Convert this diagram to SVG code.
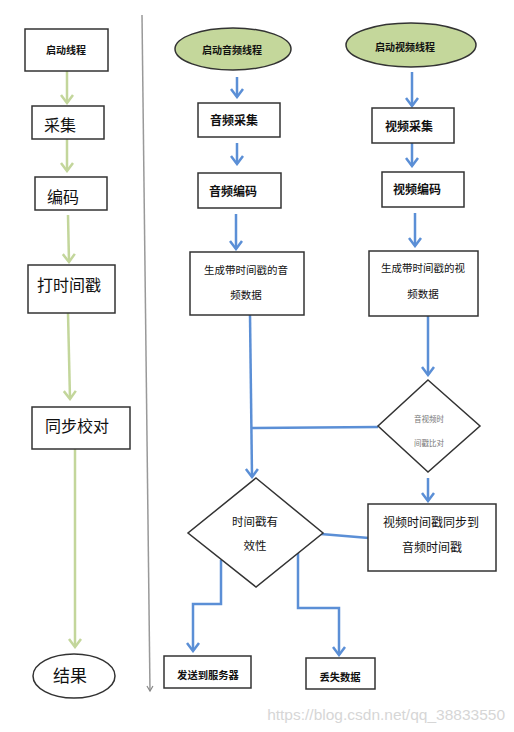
<svg xmlns="http://www.w3.org/2000/svg" width="514" height="732" viewBox="0 0 514 732">
<defs>
<style>
.box{fill:#fff;stroke:#333;stroke-width:1.5}
.start{fill:#c4d79b;stroke:#333;stroke-width:1.5}
.t{font-family:"Liberation Sans","Noto Sans CJK SC",sans-serif;fill:#111;text-anchor:middle;dominant-baseline:central}
.b{font-weight:bold}
.g{fill:none;stroke:#c3d69b;stroke-width:2.5}
.bl{fill:none;stroke:#5b8fd6;stroke-width:2.5}
.ga{marker-end:url(#ag)}
.ba{marker-end:url(#ab)}
</style>
<marker id="ag" viewBox="-10 -8 12 16" markerWidth="12" markerHeight="16" refX="0" refY="0" orient="auto" markerUnits="userSpaceOnUse">
<path d="M-8,-6 L0,0 L-8,6" fill="none" stroke="#c3d69b" stroke-width="2.5"/>
</marker>
<marker id="ab" viewBox="-10 -8 12 16" markerWidth="12" markerHeight="16" refX="0" refY="0" orient="auto" markerUnits="userSpaceOnUse">
<path d="M-8,-6 L0,0 L-8,6" fill="none" stroke="#5b8fd6" stroke-width="2.5"/>
</marker>
<marker id="agray" viewBox="-6 -4 8 8" markerWidth="8" markerHeight="8" refX="0" refY="0" orient="auto" markerUnits="userSpaceOnUse">
<path d="M-5,-3 L0,0 L-5,3" fill="none" stroke="#888" stroke-width="1.2"/>
</marker>
</defs>
<rect width="514" height="732" fill="#fff"/>

<g id="connectors">
<line x1="142" y1="15" x2="150" y2="691" stroke="#999" stroke-width="1.5" marker-end="url(#agray)"/>
<line class="g ga" x1="67" y1="71" x2="67" y2="103"/>
<line class="g ga" x1="67" y1="139" x2="67" y2="171"/>
<line class="g ga" x1="68" y1="215" x2="69" y2="262"/>
<line class="g ga" x1="68" y1="313" x2="70" y2="399"/>
<line class="g ga" x1="75" y1="449" x2="75" y2="647"/>
<line class="bl ba" x1="237" y1="77" x2="237" y2="97"/>
<line class="bl ba" x1="237" y1="143" x2="237" y2="164"/>
<line class="bl ba" x1="236" y1="214" x2="236" y2="249"/>
<line class="bl ba" x1="412" y1="72" x2="412" y2="106"/>
<line class="bl ba" x1="412" y1="143" x2="412" y2="166"/>
<line class="bl ba" x1="415" y1="213" x2="415" y2="246"/>
<line class="bl ba" x1="250" y1="315" x2="252" y2="477"/>
<line class="bl ba" x1="428" y1="316" x2="428" y2="375"/>
<line class="bl" x1="378" y1="427" x2="251" y2="428"/>
<line class="bl ba" x1="428" y1="478" x2="428" y2="501"/>
<line class="bl" x1="369" y1="538" x2="321" y2="534"/>
<polyline class="bl ba" points="221,560 221,604 193,604 193,651"/>
<polyline class="bl ba" points="298,553 298,608 339,608 339,655"/>
</g>

<g id="n-start">
<rect class="box" x="25" y="29" width="83" height="42"/>
<text class="t b" x="66" y="50" font-size="10">启动线程</text>
</g>
<g id="n-collect">
<rect class="box" x="32" y="106" width="72" height="33"/>
<text class="t" x="60" y="125" font-size="16">采集</text>
</g>
<g id="n-encode">
<rect class="box" x="35" y="177" width="72" height="33"/>
<text class="t" x="63" y="197" font-size="16">编码</text>
</g>
<g id="n-stamp">
<rect class="box" x="28" y="265" width="87" height="48"/>
<text class="t" x="69" y="285" font-size="16">打时间戳</text>
</g>
<g id="n-sync">
<rect class="box" x="32" y="407" width="98" height="42"/>
<text class="t" x="77" y="426" font-size="16">同步校对</text>
</g>
<g id="n-result">
<ellipse class="box" cx="74" cy="676" rx="41" ry="22"/>
<text class="t" x="70" y="676" font-size="17">结果</text>
</g>

<g id="n-audio-start">
<ellipse class="start" cx="233" cy="49" rx="58" ry="21"/>
<text class="t b" x="232" y="50" font-size="10">启动音频线程</text>
</g>
<g id="n-video-start">
<ellipse class="start" cx="411" cy="45" rx="65" ry="22"/>
<text class="t b" x="405" y="47" font-size="10">启动视频线程</text>
</g>
<g id="n-audio-collect">
<rect class="box" x="198" y="103" width="82" height="34"/>
<text class="t b" x="234" y="121" font-size="12">音频采集</text>
</g>
<g id="n-audio-encode">
<rect class="box" x="198" y="173" width="83" height="35"/>
<text class="t b" x="233" y="192" font-size="12">音频编码</text>
</g>
<g id="n-audio-data">
<rect class="box" x="190" y="252" width="114" height="63"/>
<text class="t" x="246" y="270" font-size="10.5">生成带时间戳的音</text>
<text class="t" x="246" y="295" font-size="10.5">频数据</text>
</g>
<g id="n-video-collect">
<rect class="box" x="372" y="108" width="82" height="35"/>
<text class="t b" x="409" y="127" font-size="12">视频采集</text>
</g>
<g id="n-video-encode">
<rect class="box" x="382" y="172" width="82" height="35"/>
<text class="t b" x="417" y="190" font-size="12">视频编码</text>
</g>
<g id="n-video-data">
<rect class="box" x="369" y="251" width="109" height="65"/>
<text class="t" x="423" y="268" font-size="10.5">生成带时间戳的视</text>
<text class="t" x="423" y="294" font-size="10.5">频数据</text>
</g>
<g id="n-compare">
<polygon class="box" points="428,380 480,426 428,472 378,426"/>
<text class="t" x="429" y="419" font-size="7.5" fill="#777" style="fill:#777">音视频时</text>
<text class="t" x="429" y="443" font-size="7.5" style="fill:#777">间戳比对</text>
</g>
<g id="n-valid">
<polygon class="box" points="256,478 323,533 256,587 188,533"/>
<text class="t" x="255" y="522" font-size="11.5">时间戳有</text>
<text class="t" x="255" y="546" font-size="11.5">效性</text>
</g>
<g id="n-align">
<rect class="box" x="368" y="504" width="128" height="67"/>
<text class="t" x="431" y="523" font-size="12">视频时间戳同步到</text>
<text class="t" x="432" y="548" font-size="12">音频时间戳</text>
</g>
<g id="n-send">
<rect class="box" x="164" y="656" width="87" height="32"/>
<text class="t b" x="208" y="675" font-size="10.3">发送到服务器</text>
</g>
<g id="n-drop">
<rect class="box" x="306" y="658" width="69" height="31"/>
<text class="t b" x="340" y="677" font-size="10.3">丢失数据</text>
</g>
<text x="505" y="720" font-family="Liberation Sans, sans-serif" font-size="15.5" fill="#d6d6d6" text-anchor="end">https://blog.csdn.net/qq_38833550</text>
</svg>
